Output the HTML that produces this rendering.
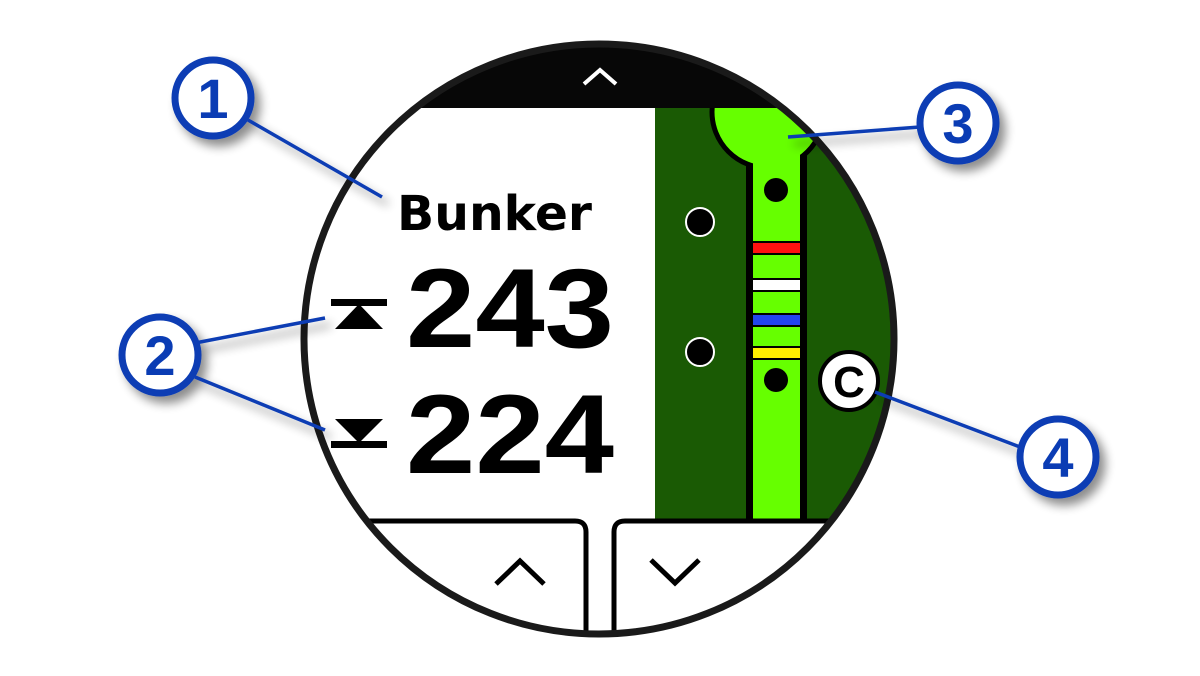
<!DOCTYPE html>
<html><head><meta charset="utf-8"><style>
html,body{margin:0;padding:0;background:#fff;}
svg{display:block;}
</style></head><body>
<svg width="1200" height="676" viewBox="0 0 1200 676" xmlns="http://www.w3.org/2000/svg">
<defs>
<clipPath id="c"><circle cx="599" cy="339" r="292"/></clipPath>
<filter id="sh" x="-50%" y="-50%" width="200%" height="200%"><feGaussianBlur in="SourceAlpha" stdDeviation="5"/><feOffset dx="6" dy="7"/><feComponentTransfer><feFuncA type="linear" slope="0.45"/></feComponentTransfer><feMerge><feMergeNode/><feMergeNode in="SourceGraphic"/></feMerge></filter>
</defs>
<g clip-path="url(#c)">
<rect x="300" y="40" width="600" height="600" fill="#fff"/>
<rect x="655" y="108" width="250" height="413" fill="#1a5a04"/>
<rect x="746" y="150" width="61" height="371" fill="#000"/>
<circle cx="768" cy="112" r="56" fill="#66ff00" stroke="#000" stroke-width="5"/>
<rect x="753" y="150" width="47" height="371" fill="#66ff00"/>
<rect x="753" y="241" width="47" height="14" fill="#000"/><rect x="753" y="243" width="47" height="10" fill="#ff1010"/>
<rect x="753" y="278" width="47" height="14" fill="#000"/><rect x="753" y="280" width="47" height="10" fill="#fff"/>
<rect x="753" y="313" width="47" height="14" fill="#000"/><rect x="753" y="315" width="47" height="10" fill="#2244ee"/>
<rect x="753" y="346" width="47" height="14" fill="#000"/><rect x="753" y="348" width="47" height="10" fill="#ffee00"/>
<rect x="300" y="40" width="600" height="68" fill="#070707"/>
<polyline points="584,84 600,70 616,84" fill="none" stroke="#fff" stroke-width="4"/>
<circle cx="776" cy="190" r="12" fill="#000"/>
<circle cx="776" cy="380" r="12" fill="#000"/>
<circle cx="700" cy="222" r="14" fill="#000" stroke="#fff" stroke-width="2"/>
<circle cx="700" cy="352" r="14" fill="#000" stroke="#fff" stroke-width="2"/>
<circle cx="849" cy="381" r="29" fill="#fff" stroke="#000" stroke-width="4"/>
<text x="849" y="397" font-family="Liberation Sans, sans-serif" font-weight="bold" font-size="44" text-anchor="middle" fill="#000">C</text>
<path d="M300,521 H575 Q586,521 586,532 V640" fill="none" stroke="#000" stroke-width="5"/>
<path d="M900,521 H625 Q614,521 614,532 V640" fill="none" stroke="#000" stroke-width="5"/>
<polyline points="496,584 520,561 544,584" fill="none" stroke="#000" stroke-width="5"/>
<polyline points="651,560 675,583 699,560" fill="none" stroke="#000" stroke-width="5"/>
<text x="397" y="230" font-family="DejaVu Sans, Liberation Sans, sans-serif" font-weight="bold" font-size="48" fill="#000" textLength="195" lengthAdjust="spacingAndGlyphs">Bunker</text>
<text x="406" y="347" font-family="Liberation Sans, sans-serif" font-weight="bold" font-size="112" fill="#000" textLength="208" lengthAdjust="spacingAndGlyphs">243</text>
<text x="406" y="473" font-family="Liberation Sans, sans-serif" font-weight="bold" font-size="112" fill="#000" textLength="208" lengthAdjust="spacingAndGlyphs">224</text>
<rect x="331" y="299" width="56" height="7" fill="#000"/>
<polygon points="359,304 335,329 383,329" fill="#000"/>
<rect x="331" y="441" width="56" height="7" fill="#000"/>
<polygon points="359,443 335,419 383,419" fill="#000"/>
</g>
<circle cx="599" cy="339" r="295" fill="none" stroke="#1a1a1a" stroke-width="7"/>
<g filter="url(#sh)" stroke="#0a3cb4" fill="none">
<line x1="248" y1="120" x2="382" y2="197" stroke-width="3.5"/>
<line x1="195" y1="343" x2="325" y2="318" stroke-width="3.5"/>
<line x1="195" y1="377" x2="325" y2="430" stroke-width="3.5"/>
<line x1="788" y1="137" x2="920" y2="127" stroke-width="3.5"/>
<line x1="875" y1="392" x2="1020" y2="447" stroke-width="3.5"/>
<circle cx="213" cy="98" r="38" fill="#fff" stroke-width="7"/>
<circle cx="160" cy="355" r="38" fill="#fff" stroke-width="7"/>
<circle cx="958" cy="123" r="38" fill="#fff" stroke-width="7"/>
<circle cx="1058" cy="457" r="38" fill="#fff" stroke-width="7"/>
</g>
<g font-family="Liberation Sans, sans-serif" font-weight="bold" font-size="56" fill="#0a3cb4" text-anchor="middle">
<text x="213" y="118">1</text>
<text x="160" y="375">2</text>
<text x="958" y="143">3</text>
<text x="1058" y="477">4</text>
</g>
</svg>
</body></html>
